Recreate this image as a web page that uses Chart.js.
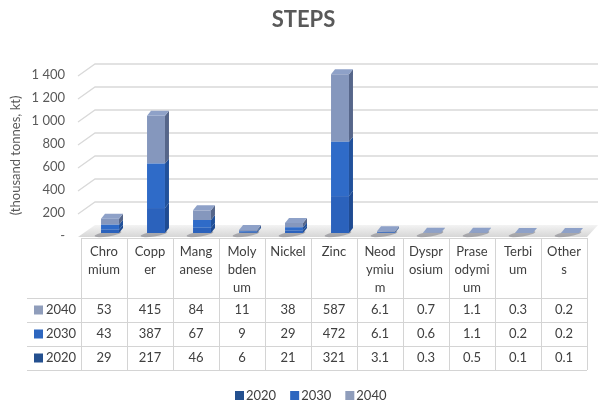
<!DOCTYPE html>
<html>
<head>
<meta charset="utf-8">
<script src="https://cdn.jsdelivr.net/npm/chart.js@4/dist/chart.umd.min.js"></script>
<style>
  html, body { margin: 0; padding: 0; background: #ffffff; }
  #wrap { width: 600px; height: 403px; position: relative; }
</style>
</head>
<body>
<div id="wrap"><canvas id="c" width="600" height="403"></canvas></div>
<script>
// ---- data ----
const categories = ["Chromium", "Copper", "Manganese", "Molybdenum", "Nickel", "Zinc",
  "Neodymium", "Dysprosium", "Praseodymium", "Terbium", "Others"];
const headerLines = [["Chro", "mium"], ["Copp", "er"], ["Mang", "anese"], ["Moly", "bden", "um"],
  ["Nickel"], ["Zinc"], ["Neod", "ymiu", "m"], ["Dyspr", "osium"], ["Prase", "odymi", "um"],
  ["Terbi", "um"], ["Other", "s"]];
const years = ["2020", "2030", "2040"];
const values2020 = [29, 217, 46, 6, 21, 321, 3.1, 0.3, 0.5, 0.1, 0.1];
const values2030 = [43, 387, 67, 9, 29, 472, 6.1, 0.6, 1.1, 0.2, 0.2];
const values2040 = [53, 415, 84, 11, 38, 587, 6.1, 0.7, 1.1, 0.3, 0.2];
const yTicks = [0, 200, 400, 600, 800, 1000, 1200, 1400];

const FONT = "Lato, 'Liberation Sans', sans-serif";
const TXT = "#404040";
const frontColors = ["#2b62bc", "#2f6bc8", "#8597bd"];
const keyColors = ["#24508f", "#2d66bf", "#8f9dbb"];
const sideColors = ["#1f4b92", "#21519b", "#56668a"];
const topColor = "#8ea1c8";
const DX = 4, DY = -5;       // bar depth
const SHIFT_X = 6, SHIFT_Y = -3;  // bars placed mid-depth

Chart.defaults.font.family = FONT;

const threeD = {
  id: "threeD",
  beforeDatasetsDraw(chart) {
    const ctx = chart.ctx;
    const ca = chart.chartArea;
    const y = chart.scales.y;
    ctx.save();
    ctx.strokeStyle = "#d9d9d9";
    ctx.lineWidth = 1.3;
    yTicks.forEach(v => {
      if (v === 0) return;
      const py = y.getPixelForValue(v);
      ctx.beginPath();
      ctx.moveTo(ca.left - 3, py + 1);
      ctx.lineTo(ca.left + 14, py - 11);
      ctx.lineTo(598, py - 11);
      ctx.stroke();
    });
    // floor
    const y0 = y.getPixelForValue(0);
    const g = ctx.createLinearGradient(0, y0 - 12, 0, y0 + 1);
    g.addColorStop(0, "#f6f6f6");
    g.addColorStop(1, "#d6d6d6");
    ctx.fillStyle = g;
    ctx.beginPath();
    ctx.moveTo(ca.left - 3, y0 + 1);
    ctx.lineTo(ca.right, y0 + 1);
    ctx.lineTo(598, y0 - 11);
    ctx.lineTo(ca.left + 14, y0 - 11);
    ctx.closePath();
    ctx.fill();
    const meta = chart.getDatasetMeta(0);
    meta.data.forEach(el => {
      ctx.fillStyle = "rgba(70,70,80,0.35)";
      ctx.beginPath();
      ctx.ellipse(el.x + SHIFT_X - 2, y0 - 2, el.width * 0.75, 2.5, -0.15, 0, Math.PI * 2);
      ctx.fill();
    });
    ctx.restore();
    ctx.save();
    ctx.translate(SHIFT_X, SHIFT_Y);
  },
  afterDatasetsDraw(chart) {
    const ctx = chart.ctx;
    const n = chart.data.datasets.length;
    for (let d = 0; d < n; d++) {
      const meta = chart.getDatasetMeta(d);
      meta.data.forEach(el => {
        const w = el.width, r = el.x + w / 2, l = el.x - w / 2;
        const top = Math.min(el.y, el.base), bot = Math.max(el.y, el.base);
        ctx.fillStyle = sideColors[d];
        ctx.beginPath();
        ctx.moveTo(r, bot);
        ctx.lineTo(r + DX, bot + DY);
        ctx.lineTo(r + DX, top + DY);
        ctx.lineTo(r, top);
        ctx.closePath();
        ctx.fill();
        if (d === n - 1) {
          ctx.fillStyle = topColor;
          ctx.beginPath();
          ctx.moveTo(l, top);
          ctx.lineTo(l + DX, top + DY);
          ctx.lineTo(r + DX, top + DY);
          ctx.lineTo(r, top);
          ctx.closePath();
          ctx.fill();
        }
      });
    }
    ctx.restore();
  },
  afterDraw(chart) {
    const ctx = chart.ctx;
    const x = chart.scales.x;
    const colW = x.getPixelForValue(1) - x.getPixelForValue(0);
    const left = x.getPixelForValue(0) - colW / 2;
    const right = x.getPixelForValue(categories.length - 1) + colW / 2;
    const tTop = 238, hBot = 298, rowH = 24;
    ctx.save();
    ctx.strokeStyle = "#d4d4d4";
    ctx.lineWidth = 1;
    for (let i = 0; i <= categories.length; i++) {
      const px = Math.round(left + i * colW) + 0.5;
      ctx.beginPath();
      ctx.moveTo(px, tTop);
      ctx.lineTo(px, hBot + rowH * 3);
      ctx.stroke();
    }
    ctx.beginPath();
    ctx.moveTo(left, tTop + 0.5);
    ctx.lineTo(right, tTop + 0.5);
    ctx.stroke();
    for (let r = 0; r <= 3; r++) {
      const py = hBot + r * rowH + 0.5;
      ctx.beginPath();
      ctx.moveTo(27, py);
      ctx.lineTo(right, py);
      ctx.stroke();
    }
    ctx.fillStyle = TXT;
    ctx.font = "13px " + FONT;
    ctx.textAlign = "center";
    ctx.textBaseline = "middle";
    headerLines.forEach((lines, i) => {
      const cx = x.getPixelForValue(i);
      lines.forEach((t, k) => ctx.fillText(t, cx, 252 + k * 18));
    });
    const rows = [[years[2], values2040, 2], [years[1], values2030, 1], [years[0], values2020, 0]];
    rows.forEach((row, r) => {
      const cy = hBot + r * rowH + rowH / 2;
      row[1].forEach((v, i) => {
        ctx.textAlign = "center";
        ctx.fillStyle = TXT;
        ctx.fillText(String(v), x.getPixelForValue(i), cy);
      });
      ctx.fillStyle = keyColors[row[2]];
      ctx.fillRect(34, cy - 4.5, 9, 9);
      ctx.fillStyle = TXT;
      ctx.textAlign = "left";
      ctx.fillText(row[0], 46, cy);
    });
    let lx = 235;
    years.forEach((yr, i) => {
      ctx.fillStyle = keyColors[i];
      ctx.fillRect(lx, 391, 9, 9);
      ctx.fillStyle = TXT;
      ctx.textAlign = "left";
      ctx.fillText(yr, lx + 11, 395.5);
      lx += ctx.measureText(yr).width + 25;
    });
    ctx.restore();
  }
};

new Chart(document.getElementById("c"), {
  type: "bar",
  data: {
    labels: categories,
    datasets: [
      { label: years[0], data: values2020, backgroundColor: frontColors[0] },
      { label: years[1], data: values2030, backgroundColor: frontColors[1] },
      { label: years[2], data: values2040, backgroundColor: frontColors[2] }
    ]
  },
  options: {
    responsive: false,
    animation: false,
    layout: { padding: { left: 20, right: 13, top: 0, bottom: 167 } },
    datasets: { bar: { barPercentage: 0.39, categoryPercentage: 1, borderWidth: 0 } },
    plugins: {
      legend: { display: false },
      tooltip: { enabled: false },
      title: {
        display: true,
        text: "STEPS",
        color: "#595959",
        font: { size: 22, weight: "bold", family: FONT, lineHeight: 1.2 },
        padding: { top: 7, bottom: 41.6 }
      }
    },
    scales: {
      x: { display: false, stacked: true },
      y: {
        stacked: true,
        min: 0,
        max: 1400,
        afterFit(s) { s.width = 61; },
        afterBuildTicks(s) { s.ticks = yTicks.map(v => ({ value: v })); },
        grid: { display: false, drawTicks: false },
        border: { display: false },
        ticks: {
          padding: 16,
          color: "#595959",
          font: { size: 13, family: FONT },
          callback: v => v === 0 ? "-" : String(v).replace(/\B(?=(\d{3})+(?!\d))/g, " ")
        },
        title: {
          display: true,
          text: "(thousand tonnes, kt)",
          color: "#595959",
          font: { size: 13, family: FONT },
          padding: { top: -12, bottom: 0 }
        }
      }
    }
  },
  plugins: [threeD]
});
</script>
</body>
</html>
